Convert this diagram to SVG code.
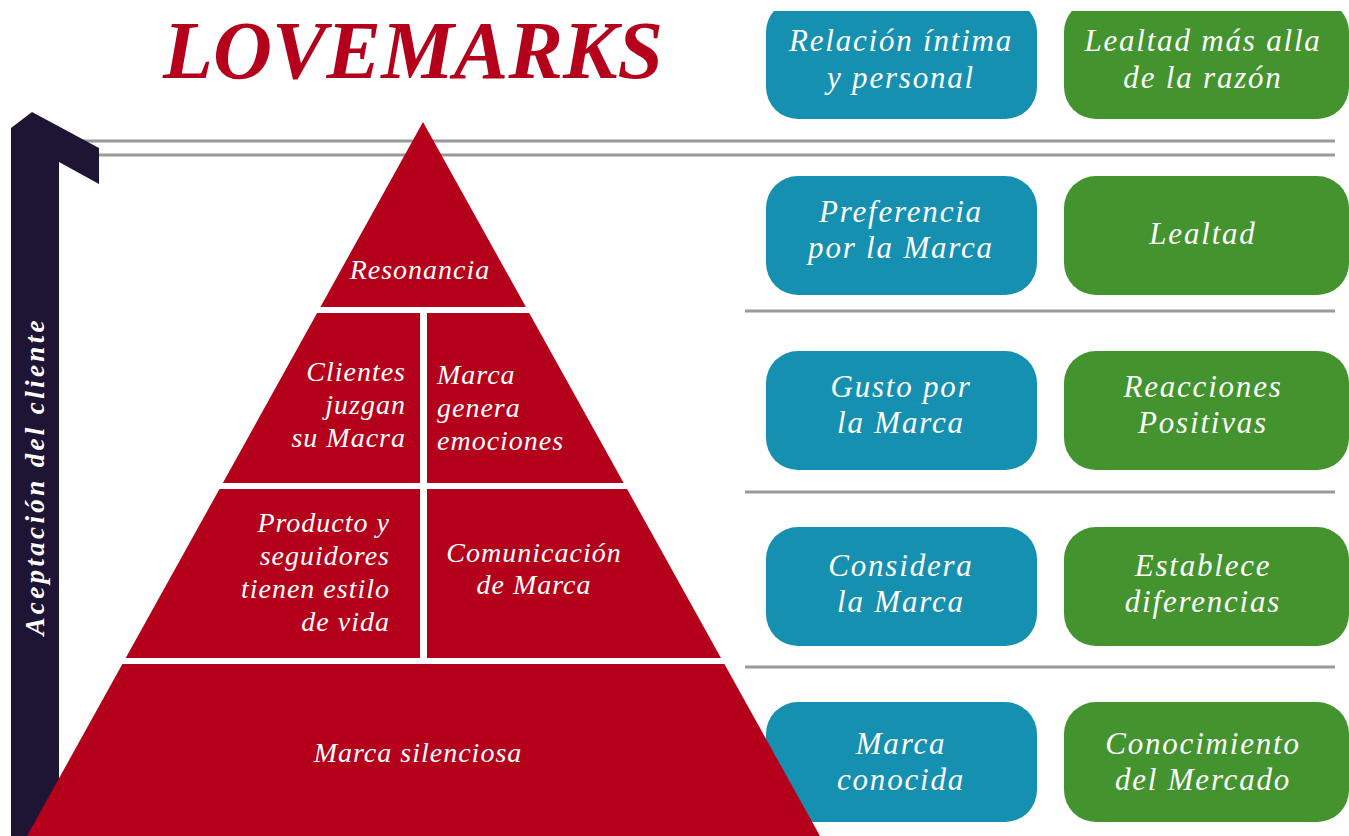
<svg xmlns="http://www.w3.org/2000/svg" width="1349" height="836" viewBox="0 0 1349 836">
<style>
.ln{stroke:#999999;stroke-width:3;fill:none}
.red{fill:#b5001c}
.blue{fill:#1690b0}
.green{fill:#43942e}
.t{font-family:"Liberation Serif","Times New Roman",serif;font-style:italic;fill:#ffffff}
.bt{font-size:31px;letter-spacing:1.8px;text-anchor:middle}
.pt{font-size:28px;letter-spacing:1px}
</style>
<defs>
<clipPath id="topclip"><rect x="0" y="11" width="1349" height="825"/></clipPath>
</defs>
<rect x="0" y="0" width="1349" height="836" fill="#ffffff"/>
<text x="413" y="78" font-family="Liberation Serif, serif" font-style="italic" font-weight="bold" font-size="82" fill="#b5001c" text-anchor="middle" textLength="500" lengthAdjust="spacingAndGlyphs">LOVEMARKS</text>
<g id="connectors">
<line class="ln" x1="60" y1="141" x2="1335" y2="141"/>
<line class="ln" x1="60" y1="155" x2="1335" y2="155"/>
<line class="ln" x1="745" y1="311" x2="1335" y2="311"/>
<line class="ln" x1="745" y1="492" x2="1335" y2="492"/>
<line class="ln" x1="745" y1="667" x2="1335" y2="667"/>
</g>
<g id="axis">
<polygon points="11,128 32,112 99,148 99,184 59,162 59,836 11,836" fill="#1e1535"/>
<text transform="translate(44,478) rotate(-90)" font-family="Liberation Serif, serif" font-style="italic" font-weight="bold" font-size="27" fill="#ffffff" text-anchor="middle" textLength="315" lengthAdjust="spacing">Aceptación del cliente</text>
</g>
<g id="row1">
<g id="b1" clip-path="url(#topclip)">
<rect class="blue" x="766" y="0" width="271" height="119" rx="32"/>
<text class="t bt"><tspan x="901" y="51">Relación íntima</tspan><tspan x="901" y="88">y personal</tspan></text>
</g>
<g id="g1" clip-path="url(#topclip)">
<rect class="green" x="1064" y="0" width="285" height="119" rx="32"/>
<text class="t bt"><tspan x="1203" y="51">Lealtad más alla</tspan><tspan x="1203" y="88">de la razón</tspan></text>
</g>
</g>
<g id="row2">
<g id="b2">
<rect class="blue" x="766" y="176" width="271" height="119" rx="32"/>
<text class="t bt"><tspan x="901" y="222">Preferencia</tspan><tspan x="901" y="258">por la Marca</tspan></text>
</g>
<g id="g2">
<rect class="green" x="1064" y="176" width="285" height="119" rx="32"/>
<text class="t bt" x="1203" y="244">Lealtad</text>
</g>
</g>
<g id="row3">
<g id="b3">
<rect class="blue" x="766" y="351" width="271" height="119" rx="32"/>
<text class="t bt"><tspan x="901" y="397">Gusto por</tspan><tspan x="901" y="433">la Marca</tspan></text>
</g>
<g id="g3">
<rect class="green" x="1064" y="351" width="285" height="119" rx="32"/>
<text class="t bt"><tspan x="1203" y="397">Reacciones</tspan><tspan x="1203" y="433">Positivas</tspan></text>
</g>
</g>
<g id="row4">
<g id="b4">
<rect class="blue" x="766" y="527" width="271" height="119" rx="32"/>
<text class="t bt"><tspan x="901" y="576">Considera</tspan><tspan x="901" y="612">la Marca</tspan></text>
</g>
<g id="g4">
<rect class="green" x="1064" y="527" width="285" height="119" rx="32"/>
<text class="t bt"><tspan x="1203" y="576">Establece</tspan><tspan x="1203" y="612">diferencias</tspan></text>
</g>
</g>
<g id="row5">
<g id="b5">
<rect class="blue" x="766" y="702" width="271" height="120" rx="32"/>
<text class="t bt"><tspan x="901" y="754">Marca</tspan><tspan x="901" y="790">conocida</tspan></text>
</g>
<g id="g5">
<rect class="green" x="1064" y="702" width="285" height="120" rx="32"/>
<text class="t bt"><tspan x="1203" y="754">Conocimiento</tspan><tspan x="1203" y="790">del Mercado</tspan></text>
</g>
</g>
<g id="pyramid">
<g id="resonancia">
<polygon class="red" points="423,122 320.4,307 525.9,307"/>
<text class="t pt" x="420" y="279" text-anchor="middle">Resonancia</text>
</g>
<g id="clientes">
<polygon class="red" points="317.1,313 420,313 420,483 222.8,483"/>
<text class="t pt" text-anchor="end"><tspan x="406" y="381">Clientes</tspan><tspan x="406" y="414">juzgan</tspan><tspan x="406" y="447">su Macra</tspan></text>
</g>
<g id="emociones">
<polygon class="red" points="427,313 529.2,313 623.7,483 427,483"/>
<text class="t pt"><tspan x="437" y="384">Marca</tspan><tspan x="437" y="417">genera</tspan><tspan x="437" y="450">emociones</tspan></text>
</g>
<g id="estilo">
<polygon class="red" points="219.5,489 420,489 420,658 125.7,658"/>
<text class="t pt" text-anchor="end"><tspan x="390" y="532">Producto y</tspan><tspan x="390" y="565">seguidores</tspan><tspan x="390" y="598">tienen estilo</tspan><tspan x="390" y="631">de vida</tspan></text>
</g>
<g id="comunicacion">
<polygon class="red" points="427,489 627.1,489 721,658 427,658"/>
<text class="t pt" text-anchor="middle"><tspan x="534" y="562">Comunicación</tspan><tspan x="534" y="594">de Marca</tspan></text>
</g>
<g id="silenciosa">
<polygon class="red" points="122.4,664 724.4,664 820,836 27,836"/>
<text class="t pt" x="418" y="762" text-anchor="middle">Marca silenciosa</text>
</g>
</g>
</svg>
